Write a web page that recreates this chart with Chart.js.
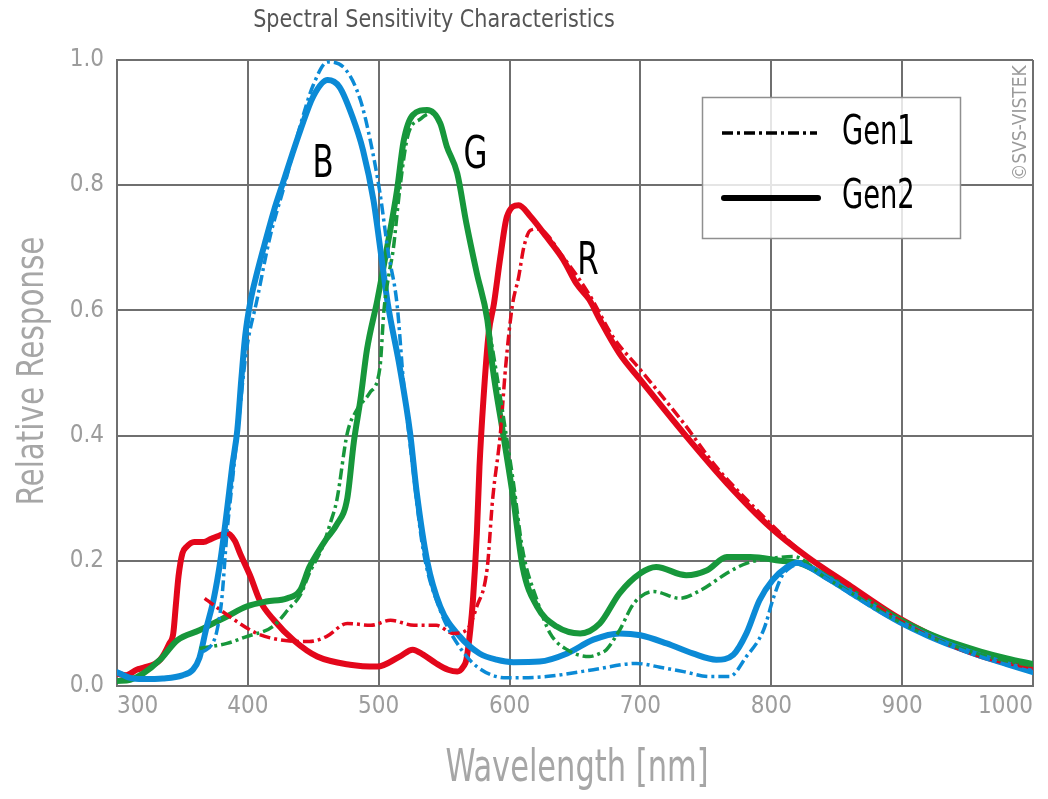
<!DOCTYPE html>
<html><head><meta charset="utf-8">
<script src="https://cdn.jsdelivr.net/npm/chart.js@4.4.1/dist/chart.umd.min.js"></script>
<style>html,body{margin:0;padding:0;background:#fff;}#wrap{width:1048px;height:799px;position:relative;}</style>
</head><body><div id="wrap"><canvas id="c" width="1048" height="799"></canvas></div>
<script>
const FONT = "'Liberation Sans Narrow','DejaVu Sans Condensed',sans-serif";
const chartTitle = "Spectral Sensitivity Characteristics";
const xAxisTitle = "Wavelength [nm]";
const yAxisTitle = "Relative Response";
const copyrightText = "\u00A9SVS-VISTEK";
const xTickValues = [300, 400, 500, 600, 700, 800, 900, 1000];
const yTickValues = [0, 0.2, 0.4, 0.6, 0.8, 1.0];
const seriesNames = ["Gen1", "Gen2"];
const curveNames = ["B", "G", "R"];

// Blue Gen1 (dash-dot)
const bGen1Nm  = [366,372,376,380,384,388,392,399,407,417,428,440,450,461,475,486,493,501,507,514,519,526,534,547,560,575,598,628,664,697,715,733,753,768,781,794,802,808,815,822,840,860,880,900,920,940,960,980,1000];
const bGen1Val = [0.055,0.065,0.085,0.137,0.244,0.324,0.404,0.537,0.617,0.718,0.8,0.895,0.96,0.997,0.984,0.936,0.877,0.787,0.696,0.61,0.484,0.35,0.217,0.121,0.068,0.031,0.013,0.015,0.026,0.036,0.03,0.023,0.015,0.015,0.047,0.089,0.143,0.175,0.19,0.195,0.174,0.148,0.122,0.099,0.079,0.062,0.047,0.034,0.022];
// Blue Gen2 (solid)
const bGen2Nm  = [300,310,320,335,350,358,363,368,374,379,384,388,392,395,398,402,407,414,420,427,434,440,450,461,470,480,488,496,502,507,516,524,529,537,547,562,577,590,603,623,644,664,684,700,720,740,758,771,781,791,801,812,820,840,860,880,900,920,940,960,980,1000];
const bGen2Val = [0.022,0.013,0.011,0.012,0.017,0.026,0.045,0.09,0.14,0.2,0.28,0.35,0.41,0.49,0.56,0.615,0.66,0.715,0.76,0.805,0.85,0.887,0.942,0.968,0.957,0.909,0.856,0.776,0.686,0.61,0.51,0.404,0.31,0.2,0.127,0.079,0.052,0.042,0.038,0.039,0.052,0.074,0.084,0.081,0.068,0.052,0.042,0.05,0.084,0.137,0.169,0.19,0.197,0.176,0.15,0.124,0.1,0.08,0.063,0.048,0.035,0.022];
// Green Gen1 (dash-dot)
const gGen1Nm  = [363,384,399,419,432,440,447,457,463,468,476,483,493,501,504,508,511,516,522,532,541,547,552,560,567,575,583,590,598,603,610,621,631,644,661,669,674,684,695,710,730,746,766,781,801,817,840,860,880,900,920,940,960,980,1000];
const gGen1Val = [0.06,0.068,0.079,0.095,0.125,0.145,0.18,0.222,0.26,0.297,0.404,0.44,0.468,0.51,0.6,0.66,0.696,0.792,0.877,0.906,0.915,0.899,0.862,0.819,0.739,0.659,0.585,0.5,0.393,0.324,0.217,0.137,0.084,0.058,0.047,0.052,0.058,0.089,0.132,0.151,0.14,0.153,0.18,0.196,0.204,0.207,0.175,0.15,0.124,0.1,0.08,0.064,0.05,0.04,0.032];
// Green Gen2 (solid)
const gGen2Nm  = [300,310,320,333,346,363,384,399,414,430,440,447,453,460,468,476,481,486,491,499,506,514,519,526,537,547,552,560,567,575,583,587,595,603,610,621,636,654,669,684,700,712,735,751,766,784,807,822,840,860,880,900,920,940,960,980,1000];
const gGen2Val = [0.008,0.01,0.02,0.042,0.073,0.089,0.111,0.127,0.135,0.14,0.153,0.19,0.212,0.235,0.258,0.3,0.39,0.457,0.537,0.617,0.696,0.792,0.87,0.912,0.92,0.899,0.862,0.819,0.739,0.659,0.585,0.51,0.404,0.297,0.19,0.127,0.095,0.084,0.1,0.148,0.18,0.19,0.177,0.185,0.206,0.206,0.2,0.196,0.178,0.153,0.128,0.104,0.084,0.068,0.055,0.044,0.035];
// Red Gen1 (dash-dot)
const rGen1Nm  = [367,386,407,427,447,460,476,494,509,527,544,557,567,575,583,587,593,597,602,607,611,616,622,641,661,679,700,733,758,789,807,827,861,898,939,965,1000];
const rGen1Val = [0.14,0.111,0.084,0.073,0.071,0.079,0.1,0.097,0.105,0.097,0.097,0.084,0.089,0.127,0.19,0.297,0.404,0.51,0.606,0.654,0.702,0.728,0.73,0.685,0.625,0.558,0.505,0.42,0.35,0.281,0.244,0.207,0.157,0.105,0.063,0.044,0.028];
// Red Gen2 (solid)
const rGen2Nm  = [300,307,315,320,333,340,343,345,347,350,353,359,366,372,378,384,390,394,402,409,420,435,453,478,499,516,526,534,544,553,560,565,567,570,572,575,577,580,584,588,593,598,607,616,628,641,651,661,669,684,700,733,766,799,827,861,898,939,965,1000];
const rGen2Val = [0.02,0.017,0.026,0.029,0.042,0.068,0.084,0.13,0.175,0.212,0.222,0.23,0.23,0.235,0.24,0.244,0.232,0.212,0.175,0.137,0.105,0.073,0.047,0.034,0.031,0.047,0.058,0.05,0.036,0.026,0.023,0.032,0.042,0.09,0.137,0.244,0.35,0.457,0.563,0.61,0.686,0.75,0.768,0.75,0.718,0.681,0.643,0.617,0.585,0.531,0.489,0.404,0.324,0.254,0.207,0.159,0.108,0.065,0.045,0.029];

const BLUE = '#0b8ad6', GREEN = '#17973b', RED = '#e3071b';
const DASH = [11, 4, 3, 4];
const pts = (xs, ys) => xs.map((x, i) => ({x: x, y: ys[i]}));

function ds(label, xs, ys, color, gen1) {
  return {
    label: label, data: pts(xs, ys), borderColor: color, backgroundColor: color,
    borderWidth: gen1 ? 3.5 : 6, borderDash: gen1 ? DASH : [],
    borderCapStyle: gen1 ? 'butt' : 'round', borderJoinStyle: 'round',
    pointRadius: 0, fill: false, cubicInterpolationMode: 'monotone'
  };
}

// draw condensed text (real text, horizontally scaled)
function condText(ctx, txt, x, y, sx, rot) {
  ctx.save();
  ctx.translate(x, y);
  if (rot) ctx.rotate(rot);
  ctx.scale(sx, 1);
  ctx.fillText(txt, 0, 0);
  ctx.restore();
}

const textPlugin = {
  id: 'texts',
  afterDatasetsDraw(chart) {
    const ctx = chart.ctx, xs = chart.scales.x, ys = chart.scales.y;
    ctx.save();
    // curve labels
    const labelPos = [[457.5, 0.832], [574, 0.845], [660, 0.677]];
    ctx.fillStyle = '#000';
    ctx.textAlign = 'center'; ctx.textBaseline = 'middle';
    ctx.font = '44px ' + FONT;
    curveNames.forEach((n, i) => {
      condText(ctx, n, xs.getPixelForValue(labelPos[i][0]), ys.getPixelForValue(labelPos[i][1]), 0.78, 0);
    });
    // legend box
    const lx = 702, ly = 97, lw = 258, lh = 141;
    ctx.fillStyle = 'rgba(255,255,255,0.82)';
    ctx.fillRect(lx, ly, lw, lh);
    ctx.strokeStyle = '#8f8f8f'; ctx.lineWidth = 1.5;
    ctx.strokeRect(lx + 0.5, ly + 0.5, lw, lh);
    ctx.strokeStyle = '#000';
    ctx.lineWidth = 3.5; ctx.setLineDash(DASH); ctx.lineCap = 'butt';
    ctx.beginPath(); ctx.moveTo(722, 133); ctx.lineTo(817, 133); ctx.stroke();
    ctx.setLineDash([]); ctx.lineWidth = 6; ctx.lineCap = 'round';
    ctx.beginPath(); ctx.moveTo(724, 198); ctx.lineTo(818, 198); ctx.stroke();
    ctx.fillStyle = '#000'; ctx.textAlign = 'left'; ctx.textBaseline = 'middle';
    ctx.font = '40px ' + FONT;
    condText(ctx, seriesNames[0], 842, 134, 0.76, 0);
    condText(ctx, seriesNames[1], 842, 198, 0.76, 0);
    ctx.restore();
  },
  afterDraw(chart) {
    const ctx = chart.ctx, ca = chart.chartArea;
    ctx.save();
    ctx.textAlign = 'center'; ctx.textBaseline = 'middle';
    // chart title
    ctx.fillStyle = '#555';
    ctx.font = '24px ' + FONT;
    condText(ctx, chartTitle, 434, 21, 0.96, 0);
    // axis titles
    ctx.fillStyle = '#a6a6a6';
    ctx.font = '44px ' + FONT;
    condText(ctx, xAxisTitle, 577, 770, 0.77, 0);
    ctx.font = '38px ' + FONT;
    condText(ctx, yAxisTitle, 33, (ca.top + ca.bottom) / 2 - 2, 0.86, -Math.PI / 2);
    // copyright
    ctx.fillStyle = '#9a9a9a'; ctx.font = '20px ' + FONT;
    condText(ctx, copyrightText, 1021, 123, 0.95, -Math.PI / 2);
    ctx.restore();
  }
};

new Chart(document.getElementById('c'), {
  type: 'line',
  data: { datasets: [
    ds('B ' + seriesNames[0], bGen1Nm, bGen1Val, BLUE, true),
    ds('G ' + seriesNames[0], gGen1Nm, gGen1Val, GREEN, true),
    ds('R ' + seriesNames[0], rGen1Nm, rGen1Val, RED, true),
    ds('B ' + seriesNames[1], bGen2Nm, bGen2Val, BLUE, false),
    ds('G ' + seriesNames[1], gGen2Nm, gGen2Val, GREEN, false),
    ds('R ' + seriesNames[1], rGen2Nm, rGen2Val, RED, false)
  ]},
  options: {
    responsive: false, animation: false, devicePixelRatio: 1,
    layout: { padding: { top: 60, right: 15, left: 0, bottom: 0 } },
    plugins: { legend: { display: false }, title: { display: false }, tooltip: { enabled: false } },
    scales: {
      x: {
        type: 'linear', min: 300, max: 1000,
        afterBuildTicks: s => { s.ticks = xTickValues.map(v => ({value: v})); },
        afterFit: s => { s.height = 113; },
        grid: { color: '#6f6f6f', lineWidth: 2, drawTicks: false },
        border: { color: '#6f6f6f', width: 2 },
        ticks: { align: 'inner', padding: 6, color: '#9c9c9c', font: { family: FONT, size: 24 }, callback: v => String(v) },
        title: { display: false, text: xAxisTitle }
      },
      y: {
        type: 'linear', min: 0, max: 1,
        afterBuildTicks: s => { s.ticks = yTickValues.map(v => ({value: v})); },
        afterFit: s => { s.width = 117; },
        grid: { color: '#6f6f6f', lineWidth: 2, drawTicks: false },
        border: { color: '#6f6f6f', width: 2 },
        ticks: { padding: 13, color: '#9c9c9c', font: { family: FONT, size: 24 }, callback: v => Number(v).toFixed(1) },
        title: { display: false, text: yAxisTitle }
      }
    }
  },
  plugins: [textPlugin]
});
</script></body></html>
